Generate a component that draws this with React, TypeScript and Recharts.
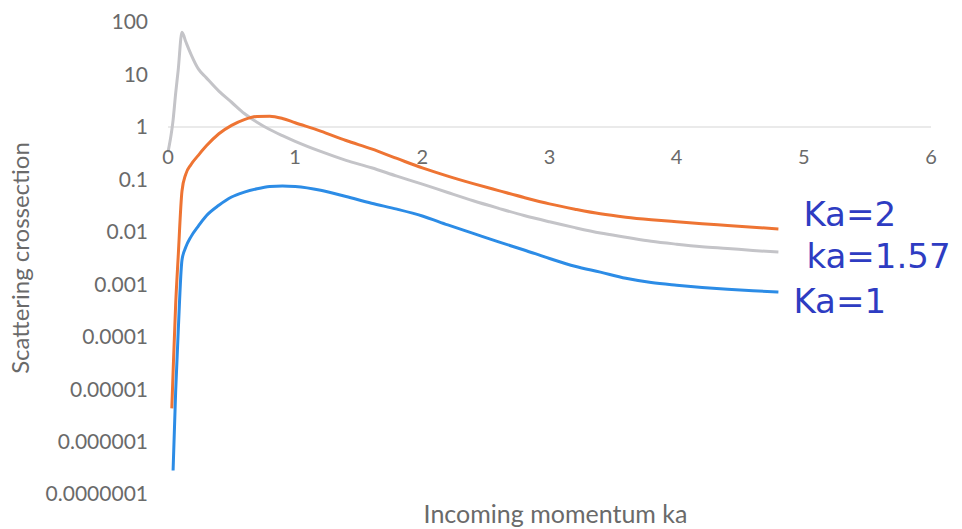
import React from "react";
import {
  LineChart,
  Line,
  XAxis,
  YAxis,
  ReferenceLine,
  ReferenceDot,
} from "recharts";

// incoming momentum ka (shared x grid)
const momentum = [
  0, 0.03, 0.04, 0.06, 0.08, 0.11, 0.14, 0.18, 0.24, 0.3, 0.4, 0.5, 0.6, 0.7,
  0.8, 0.9, 1.0, 1.2, 1.4, 1.6, 1.8, 2.0, 2.2, 2.4, 2.6, 2.8, 3.0, 3.2, 3.4,
  3.6, 3.8, 4.0, 4.2, 4.4, 4.6, 4.8,
];

// Ka = 2 (orange)
const crossKa2 = [
  null, 0.0000043, 0.000021, 0.0004, 0.0033, 0.06, 0.126, 0.19, 0.29, 0.43,
  0.74, 1.07, 1.38, 1.58, 1.6, 1.45, 1.2, 0.83, 0.55, 0.38, 0.25, 0.165,
  0.115, 0.083, 0.061, 0.045, 0.034, 0.027, 0.022, 0.019, 0.017, 0.0155,
  0.0142, 0.0132, 0.0122, 0.0113,
];

// Ka = 1.57 (grey)
const crossKa157 = [
  0.33, 0.87, 1.35, 4.3, 12, 64, 42, 24.5, 12.6, 8.7, 4.8, 2.95, 1.8, 1.23,
  0.89, 0.68, 0.53, 0.34, 0.23, 0.166, 0.115, 0.081, 0.056, 0.039, 0.028,
  0.0204, 0.0155, 0.012, 0.0095, 0.0079, 0.0066, 0.0058, 0.0052, 0.0048,
  0.0044, 0.0041,
];

// Ka = 1 (blue)
const crossKa1 = [
  null, null, 0.00000028, 0.0000087, 0.00012, 0.0029, 0.0051, 0.008, 0.013,
  0.02, 0.032, 0.046, 0.057, 0.066, 0.073, 0.075, 0.073, 0.062, 0.047, 0.035,
  0.027, 0.02, 0.0135, 0.0093, 0.0064, 0.0045, 0.0031, 0.0022, 0.0017,
  0.0013, 0.00108, 0.00096, 0.00087, 0.0008, 0.00075, 0.00071,
];

const xTicks = [0, 1, 2, 3, 4, 5, 6];
const yTicks = [1e-7, 1e-6, 1e-5, 1e-4, 1e-3, 1e-2, 1e-1, 1, 10, 100];

const data = momentum.map((k, i) => ({
  k,
  ka2: crossKa2[i],
  ka157: crossKa157[i],
  ka1: crossKa1[i],
}));

const AXIS_TEXT = "#6a6a6a";
const INK = "#2e3cc2";

const formatLog = (v: number) =>
  v >= 1 ? String(v) : v.toFixed(Math.round(-Math.log10(v)));

function HandLabel(props: any) {
  const { viewBox, text, dx, dy } = props;
  if (!viewBox) return null;
  return (
    <text
      x={viewBox.x + dx}
      y={viewBox.y + dy}
      fill={INK}
      fontSize={34}
      fontFamily="DejaVu Sans"
    >
      {text}
    </text>
  );
}

function TickLabel(props: any) {
  const { viewBox, value } = props;
  if (!viewBox) return null;
  return (
    <text
      x={viewBox.x}
      y={viewBox.y + 37}
      fill={AXIS_TEXT}
      fontSize={20}
      textAnchor="middle"
    >
      {value}
    </text>
  );
}

const last = momentum.length - 1;

export default function App() {
  return (
    <div
      style={{
        position: "absolute",
        left: 0,
        top: 0,
        width: 962,
        height: 529,
        background: "#fff",
        fontFamily: "Lato, sans-serif",
      }}
    >
      <LineChart
        width={962}
        height={529}
        data={data}
        margin={{ top: 22, right: 31, left: 98, bottom: 0 }}
      >
        <XAxis
          dataKey="k"
          type="number"
          domain={[0, 6]}
          ticks={xTicks}
          tick={false}
          axisLine={false}
          tickLine={false}
          height={35}
          label={{
            value: "Incoming momentum ka",
            position: "insideBottom",
            offset: 6,
            dx: 6,
            style: { fontSize: 25, fill: AXIS_TEXT },
          }}
        />
        <YAxis
          scale="log"
          domain={[1e-7, 100]}
          ticks={yTicks}
          allowDataOverflow
          width={70}
          axisLine={false}
          tickLine={false}
          tickSize={0}
          tickMargin={20}
          tickFormatter={formatLog}
          tick={{ fontSize: 21, fill: AXIS_TEXT }}
          label={{
            value: "Scattering crossection",
            angle: -90,
            position: "insideLeft",
            offset: -78,
            style: { fontSize: 24, fill: AXIS_TEXT, textAnchor: "middle" },
          }}
        />
        <ReferenceLine y={1} stroke="#e3e3e3" strokeWidth={1.5} />
        {xTicks.map((t) => (
          <ReferenceDot
            key={t}
            x={t}
            y={1}
            r={0}
            fill="none"
            stroke="none"
            label={(p: any) => <TickLabel {...p} value={t} />}
          />
        ))}
        <Line
          type="monotone"
          dataKey="ka157"
          stroke="#c4c4c8"
          strokeWidth={3}
          dot={false}
          isAnimationActive={false}
        />
        <Line
          type="monotone"
          dataKey="ka2"
          stroke="#ee7433"
          strokeWidth={3}
          dot={false}
          isAnimationActive={false}
        />
        <Line
          type="monotone"
          dataKey="ka1"
          stroke="#2c8ce6"
          strokeWidth={3}
          dot={false}
          isAnimationActive={false}
        />
        <ReferenceDot
          x={momentum[last]}
          y={crossKa2[last] as number}
          r={0}
          fill="none"
          stroke="none"
          label={(p: any) => <HandLabel {...p} text="Ka=2" dx={25} dy={-3} />}
        />
        <ReferenceDot
          x={momentum[last]}
          y={crossKa157[last]}
          r={0}
          fill="none"
          stroke="none"
          label={(p: any) => <HandLabel {...p} text="ka=1.57" dx={28} dy={16} />}
        />
        <ReferenceDot
          x={momentum[last]}
          y={crossKa1[last] as number}
          r={0}
          fill="none"
          stroke="none"
          label={(p: any) => <HandLabel {...p} text="Ka=1" dx={15} dy={21} />}
        />
      </LineChart>
    </div>
  );
}
